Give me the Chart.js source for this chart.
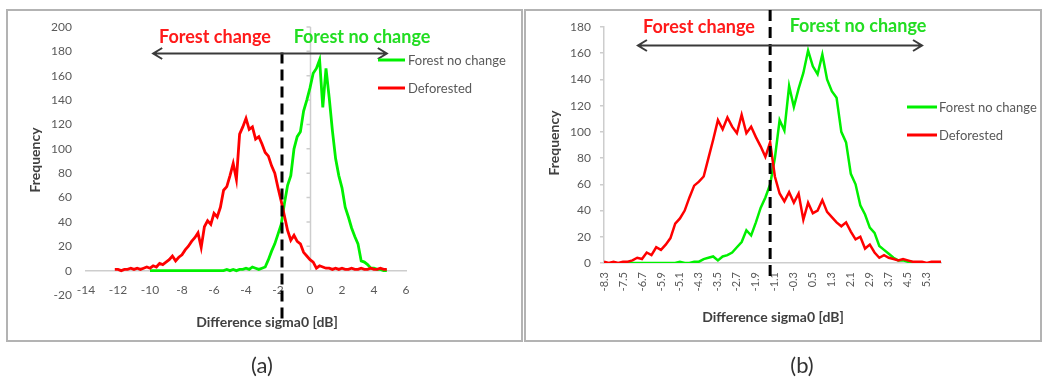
<!DOCTYPE html>
<html>
<head>
<meta charset="utf-8">
<title>Difference sigma0 histograms</title>
<script src="https://cdn.jsdelivr.net/npm/chart.js@4.4.1/dist/chart.umd.min.js"></script>
<style>
  html, body { margin: 0; padding: 0; background: #fff; }
  body { position: relative; width: 1045px; height: 380px; overflow: hidden; }
  .frame { position: absolute; box-sizing: border-box; border: 2px solid #b3b3b3; }
  #frameA { left: 6px; top: 9px; width: 517px; height: 333px; }
  #frameB { left: 524px; top: 9px; width: 518px; height: 333px; }
  canvas { position: absolute; top: 0; }
  #chartA { left: 0; }
  #chartB { left: 524px; }
  svg { position: absolute; left: 0; top: 0; }
  text { font-family: Lato, "Open Sans", sans-serif; }
  .tag { font-size: 18px; font-weight: 700; }
  .leg { font-size: 13px; fill: #595959; }
  .ttl { font-size: 14px; font-weight: 700; fill: #404040; }
  .cap { font-size: 22px; font-weight: 400; fill: #333; }
</style>
</head>
<body>
<div class="frame" id="frameA"></div>
<div class="frame" id="frameB"></div>
<canvas id="chartA" width="522" height="340"></canvas>
<canvas id="chartB" width="521" height="340"></canvas>
<svg width="1045" height="380">
  <!-- panel (a) labels -->
  <text class="tag" x="215" y="43" text-anchor="middle" fill="#ff1a1a">Forest change</text>
  <text class="tag" x="362" y="43" text-anchor="middle" fill="#22dd22">Forest no change</text>
  <line x1="378" y1="60" x2="405" y2="60" stroke="#00f000" stroke-width="3"/>
  <text class="leg" x="408" y="64.5">Forest no change</text>
  <line x1="378" y1="88" x2="405" y2="88" stroke="#ff0000" stroke-width="3"/>
  <text class="leg" x="408" y="92.5">Deforested</text>
  <text class="ttl" transform="translate(40,160) rotate(-90)" text-anchor="middle">Frequency</text>
  <text class="ttl" x="267" y="327" text-anchor="middle">Difference sigma0 [dB]</text>
  <text class="cap" x="262" y="373" text-anchor="middle">(a)</text>
  <!-- panel (b) labels -->
  <text class="tag" x="699" y="33" text-anchor="middle" fill="#ff1a1a">Forest change</text>
  <text class="tag" x="858" y="32" text-anchor="middle" fill="#22dd22">Forest no change</text>
  <line x1="907" y1="107" x2="937" y2="107" stroke="#00f000" stroke-width="3"/>
  <text class="leg" x="939" y="111.5">Forest no change</text>
  <line x1="907" y1="135" x2="937" y2="135" stroke="#ff0000" stroke-width="3"/>
  <text class="leg" x="939" y="139.5">Deforested</text>
  <text class="ttl" transform="translate(559,143) rotate(-90)" text-anchor="middle">Frequency</text>
  <text class="ttl" x="773" y="322" text-anchor="middle">Difference sigma0 [dB]</text>
  <text class="cap" x="802" y="373" text-anchor="middle">(b)</text>
</svg>
<script>
// ---- Panel (a): histogram bins of the sigma0 difference [dB] ----
const binsA = [
  -12.2, -12.0, -11.8, -11.6, -11.4, -11.2, -11.0, -10.8, -10.6, -10.4,
  -10.2, -10.0, -9.8, -9.6, -9.4, -9.2, -9.0, -8.8, -8.6, -8.4,
  -8.2, -8.0, -7.8, -7.6, -7.4, -7.2, -7.0, -6.8, -6.6, -6.4,
  -6.2, -6.0, -5.8, -5.6, -5.4, -5.2, -5.0, -4.8, -4.6, -4.4,
  -4.2, -4.0, -3.8, -3.6, -3.4, -3.2, -3.0, -2.8, -2.6, -2.4,
  -2.2, -2.0, -1.8, -1.6, -1.4, -1.2, -1.0, -0.8, -0.6, -0.4,
  -0.2, 0.0, 0.2, 0.4, 0.6, 0.8, 1.0, 1.2, 1.4, 1.6,
  1.8, 2.0, 2.2, 2.4, 2.6, 2.8, 3.0, 3.2, 3.4, 3.6,
  3.8, 4.0, 4.2, 4.4, 4.6, 4.8
];
const deforestedA = [
  1, 1, 0, 1, 1, 2, 1, 2, 1, 2,
  3, 2, 4, 3, 6, 5, 7, 9, 12, 8,
  11, 13, 17, 20, 24, 27, 31, 19, 36, 41,
  38, 47, 44, 52, 66, 69, 78, 88, 75, 112,
  118, 125, 116, 118, 108, 110, 104, 97, 94, 86,
  80, 68, 57, 45, 33, 25, 29, 24, 22, 15,
  12, 9, 7, 2, 4, 3, 2, 2, 1, 2,
  1, 2, 1, 1, 2, 1, 1, 2, 1, 1,
  2, 1, 1, 2, 1, 1
];
const noChangeA = [
  null, null, null, null, null, null, null, null, null, null,
  null, 0, 0, 0, 0, 0, 0, 0, 0, 0,
  0, 0, 0, 0, 0, 0, 0, 0, 0, 0,
  0, 0, 0, 0, 0, 1, 0, 1, 0, 1,
  1, 2, 1, 3, 2, 1, 2, 3, 9, 16,
  22, 30, 38, 55, 70, 78, 100, 110, 114, 131,
  140, 150, 162, 166, 173, 134, 166, 142, 115, 92,
  78, 68, 52, 44, 35, 28, 22, 8, 7, 5,
  2, 2, 1, 1, 0, 0
];
const xTicksA = [-14, -12, -10, -8, -6, -4, -2, 0, 2, 4, 6];
const yTicksA = [-20, 0, 20, 40, 60, 80, 100, 120, 140, 160, 180, 200];
const thresholdA = -1.75;

// ---- Panel (b): histogram bins of the sigma0 difference [dB] ----
const binsB = [
  -8.3, -8.1, -7.9, -7.7, -7.5, -7.3, -7.1, -6.9, -6.7, -6.5,
  -6.3, -6.1, -5.9, -5.7, -5.5, -5.3, -5.1, -4.9, -4.7, -4.5,
  -4.3, -4.1, -3.9, -3.7, -3.5, -3.3, -3.1, -2.9, -2.7, -2.5,
  -2.3, -2.1, -1.9, -1.7, -1.5, -1.3, -1.1, -0.9, -0.7, -0.5,
  -0.3, -0.1, 0.1, 0.3, 0.5, 0.7, 0.9, 1.1, 1.3, 1.5,
  1.7, 1.9, 2.1, 2.3, 2.5, 2.7, 2.9, 3.1, 3.3, 3.5,
  3.7, 3.9, 4.1, 4.3, 4.5, 4.7, 4.9, 5.1, 5.3, 5.5,
  5.7, 5.9
];
const deforestedB = [
  1, 0, 1, 0, 1, 1, 2, 4, 3, 8,
  6, 12, 10, 14, 19, 30, 34, 40, 50, 59,
  62, 66, 80, 94, 109, 102, 111, 104, 99, 113,
  99, 104, 96, 89, 81, 92, 66, 53, 47, 54,
  46, 53, 33, 46, 38, 40, 48, 39, 35, 31,
  28, 31, 24, 18, 20, 11, 14, 8, 4, 6,
  4, 3, 2, 3, 2, 1, 1, 1, 0, 1,
  1, 1
];
const noChangeB = [
  null, null, null, null, null, 0, 0, 0, 0, 0,
  0, 0, 0, 0, 0, 0, 1, 0, 0, 1,
  1, 3, 4, 5, 2, 5, 6, 8, 12, 16,
  25, 21, 31, 42, 50, 60, 80, 109, 101, 135,
  119, 133, 145, 162, 150, 144, 159, 140, 131, 126,
  100, 92, 68, 60, 44, 37, 27, 23, 13, 10,
  7, 4, 2, 2, 1, 1, null, null, null, null,
  null, null
];
const xTicksB = ['-8.3', '-7.5', '-6.7', '-5.9', '-5.1', '-4.3', '-3.5', '-2.7', '-1.9',
                 '-1.1', '-0.3', '0.5', '1.3', '2.1', '2.9', '3.7', '4.5', '5.3'];
const yTicksB = [0, 20, 40, 60, 80, 100, 120, 140, 160, 180];
const thresholdB = -1.3;

const RED = '#ff0000';
const GREEN = '#00f000';
const AXIS = '#cdcdcd';
const TICK_TEXT = '#5a5a5a';
const FONT = 'Lato, "Open Sans", sans-serif';

function toPoints(xs, ys) {
  return xs.map((x, i) => ({ x: x, y: ys[i] })).filter(p => p.y !== null);
}

// Threshold line, "change / no change" arrow and the zero axis, all placed in data units
const guides = {
  id: 'guides',
  beforeDatasetsDraw(chart, args, opts) {
    if (!opts.zeroAxis) return;
    const { ctx, scales: { x, y } } = chart;
    const px = Math.round(x.getPixelForValue(0)) + 0.5;
    ctx.save();
    ctx.strokeStyle = AXIS;
    ctx.lineWidth = 1.5;
    ctx.beginPath();
    ctx.moveTo(px, y.getPixelForValue(0));
    ctx.lineTo(px, y.getPixelForValue(y.max));
    y.ticks.forEach(t => {
      if (t.value > 0) {
        const py = y.getPixelForValue(t.value);
        ctx.moveTo(px - 4, py);
        ctx.lineTo(px, py);
      }
    });
    ctx.stroke();
    ctx.restore();
  },
  afterDatasetsDraw(chart, args, opts) {
    const { ctx, scales: { x, y } } = chart;
    ctx.save();
    // dashed threshold
    const tx = x.getPixelForValue(opts.threshold);
    ctx.strokeStyle = '#000';
    ctx.lineWidth = 3;
    ctx.setLineDash([11, 6]);
    ctx.beginPath();
    ctx.moveTo(tx, y.getPixelForValue(opts.dashTop));
    ctx.lineTo(tx, y.getPixelForValue(opts.dashBottom));
    ctx.stroke();
    // double-headed arrow
    const a = opts.arrow;
    const x1 = x.getPixelForValue(a.from), x2 = x.getPixelForValue(a.to);
    const ay = Math.round(y.getPixelForValue(a.y)) + 0.5;
    ctx.setLineDash([]);
    ctx.strokeStyle = '#3a3a3a';
    ctx.lineWidth = 2;
    ctx.beginPath();
    ctx.moveTo(x1, ay); ctx.lineTo(x2, ay);
    ctx.moveTo(x1 + 9, ay - 5.5); ctx.lineTo(x1, ay); ctx.lineTo(x1 + 9, ay + 5.5);
    ctx.moveTo(x2 - 9, ay - 5.5); ctx.lineTo(x2, ay); ctx.lineTo(x2 - 9, ay + 5.5);
    ctx.stroke();
    ctx.restore();
  }
};

function seriesSet(xs, green, red, width) {
  return [
    { label: 'Forest no change', data: toPoints(xs, green), borderColor: GREEN,
      showLine: true, borderWidth: width, pointRadius: 0, order: 1 },
    { label: 'Deforested', data: toPoints(xs, red), borderColor: RED,
      showLine: true, borderWidth: width, pointRadius: 0, order: 0 }
  ];
}

new Chart(document.getElementById('chartA'), {
  type: 'scatter',
  data: { datasets: seriesSet(binsA, noChangeA, deforestedA, 2.8) },
  options: {
    responsive: false, animation: false, devicePixelRatio: 1,
    layout: { padding: { left: 46, right: 116, top: 27, bottom: 45 } },
    plugins: {
      legend: { display: false }, tooltip: { enabled: false },
      guides: { zeroAxis: true, threshold: thresholdA, dashTop: 179, dashBottom: -41,
                arrow: { from: -9.8, to: 4.8, y: 178.5 } }
    },
    elements: { line: { tension: 0 } },
    scales: {
      x: {
        type: 'linear', min: -14, max: 6, position: { y: 0 },
        afterBuildTicks: s => { s.ticks = xTicksA.map(v => ({ value: v })); },
        ticks: { color: TICK_TEXT, font: { family: FONT, size: 12 }, padding: 12, autoSkip: false, maxRotation: 0 },
        grid: { display: false, drawTicks: false },
        border: { display: true, color: AXIS, width: 1.5 }
      },
      y: {
        type: 'linear', min: -20, max: 200, position: 'left',
        afterFit: s => { s.width = 40; },
        afterBuildTicks: s => { s.ticks = yTicksA.map(v => ({ value: v })); },
        ticks: { color: TICK_TEXT, font: { family: FONT, size: 12 }, padding: 14 },
        grid: { display: false, drawTicks: false },
        border: { display: false }
      }
    }
  },
  plugins: [guides]
});

new Chart(document.getElementById('chartB'), {
  type: 'scatter',
  data: { datasets: seriesSet(binsB, noChangeB, deforestedB, 2.5) },
  options: {
    responsive: false, animation: false, devicePixelRatio: 1,
    layout: { padding: { left: 40, right: 104, top: 27, bottom: 77 } },
    plugins: {
      legend: { display: false }, tooltip: { enabled: false },
      guides: { zeroAxis: false, threshold: thresholdB, dashTop: 193, dashBottom: -11.5,
                arrow: { from: -6.87, to: 5.1, y: 166.3 } }
    },
    elements: { line: { tension: 0 } },
    scales: {
      x: {
        type: 'linear', min: -8.3, max: 5.9, position: { y: 0 },
        afterBuildTicks: s => { s.ticks = xTicksB.map(v => ({ value: parseFloat(v) })); },
        ticks: { color: TICK_TEXT, font: { family: FONT, size: 11 }, padding: 9, autoSkip: false,
                 minRotation: 90, maxRotation: 90, callback: (v, i) => xTicksB[i] },
        grid: { display: false, drawTicks: false },
        border: { display: true, color: AXIS, width: 1.5 }
      },
      y: {
        type: 'linear', min: 0, max: 180, position: 'left',
        afterFit: s => { s.width = 40; },
        afterBuildTicks: s => { s.ticks = yTicksB.map(v => ({ value: v })); },
        ticks: { color: TICK_TEXT, font: { family: FONT, size: 12 }, padding: 9 },
        grid: { display: true, drawOnChartArea: false, drawTicks: true, tickLength: 4, color: AXIS, lineWidth: 1.5 },
        border: { display: true, color: AXIS, width: 1.5 }
      }
    }
  },
  plugins: [guides]
});
</script>
</body>
</html>
